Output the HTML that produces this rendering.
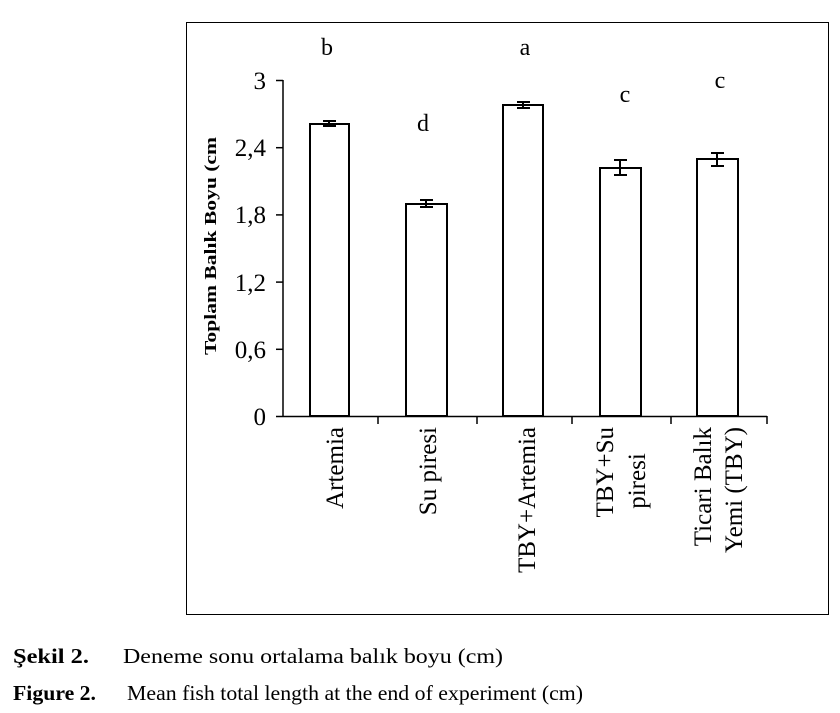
<!DOCTYPE html>
<html><head><meta charset="utf-8"><style>body{margin:0;background:#fff}svg{display:block}</style></head><body>
<svg width="840" height="713" xmlns="http://www.w3.org/2000/svg" font-family="Liberation Serif, serif" fill="#000">
<rect x="186.5" y="22.5" width="642" height="592" fill="none" stroke="#000" stroke-width="1"/>
<g stroke="#000" stroke-width="1.5" fill="none">
<line x1="283" y1="80" x2="283" y2="417"/>
<line x1="276" y1="416.5" x2="767" y2="416.5"/>
<line x1="276" y1="80.5" x2="283" y2="80.5"/>
<line x1="276" y1="147.7" x2="283" y2="147.7"/>
<line x1="276" y1="214.9" x2="283" y2="214.9"/>
<line x1="276" y1="282.1" x2="283" y2="282.1"/>
<line x1="276" y1="349.3" x2="283" y2="349.3"/>
<line x1="378" y1="416" x2="378" y2="424"/>
<line x1="477" y1="416" x2="477" y2="424"/>
<line x1="572" y1="416" x2="572" y2="424"/>
<line x1="671" y1="416" x2="671" y2="424"/>
<line x1="767" y1="416" x2="767" y2="424"/>
</g>
<g stroke="#000" stroke-width="2" fill="#fff">
<rect x="310" y="124" width="39" height="292"/>
<rect x="406" y="204" width="41" height="212"/>
<rect x="503" y="105" width="40" height="311"/>
<rect x="600" y="168" width="41" height="248"/>
<rect x="697" y="159" width="41" height="257"/>
</g>
<g stroke="#000" stroke-width="2">
<line x1="329" y1="121" x2="329" y2="126"/><line x1="323" y1="121" x2="336" y2="121"/><line x1="323" y1="126" x2="336" y2="126"/>
<line x1="426" y1="200" x2="426" y2="207"/><line x1="420" y1="200" x2="433" y2="200"/><line x1="420" y1="207" x2="433" y2="207"/>
<line x1="523" y1="102" x2="523" y2="108"/><line x1="517" y1="102" x2="530" y2="102"/><line x1="517" y1="108" x2="530" y2="108"/>
<line x1="620" y1="160" x2="620" y2="175"/><line x1="614" y1="160" x2="627" y2="160"/><line x1="614" y1="175" x2="627" y2="175"/>
<line x1="717" y1="153" x2="717" y2="166"/><line x1="711" y1="153" x2="724" y2="153"/><line x1="711" y1="166" x2="724" y2="166"/>
</g>
<g font-size="25" text-anchor="end">
<text x="266" y="89">3</text>
<text x="266" y="156">2,4</text>
<text x="266" y="223">1,8</text>
<text x="266" y="291">1,2</text>
<text x="266" y="358">0,6</text>
<text x="266" y="425">0</text>
</g>
<g font-size="24" text-anchor="middle">
<text x="327" y="55">b</text>
<text x="423" y="131">d</text>
<text x="525" y="55">a</text>
<text x="625" y="102">c</text>
<text x="720" y="88">c</text>
</g>
<text transform="translate(216,246) rotate(-90)" font-size="17" font-weight="bold" text-anchor="middle" textLength="218" lengthAdjust="spacingAndGlyphs">Toplam Balık Boyu (cm</text>
<g font-size="25" text-anchor="end">
<text transform="translate(343,427) rotate(-90)">Artemia</text>
<text transform="translate(436,427) rotate(-90)">Su piresi</text>
<text transform="translate(535,427) rotate(-90)">TBY+Artemia</text>
<text transform="translate(613,427) rotate(-90)">TBY+Su</text>
<text transform="translate(645,427) rotate(-90)" text-anchor="middle" x="-54">piresi</text>
<text transform="translate(711,427) rotate(-90)">Ticari Balık</text>
<text transform="translate(742,427) rotate(-90)">Yemi (TBY)</text>
</g>
<text x="13" y="663" font-size="21" font-weight="bold" textLength="76" lengthAdjust="spacingAndGlyphs">Şekil 2.</text>
<text x="123" y="663" font-size="21" textLength="380" lengthAdjust="spacingAndGlyphs">Deneme sonu ortalama balık boyu (cm)</text>
<text x="13" y="700" font-size="21" font-weight="bold" textLength="83" lengthAdjust="spacingAndGlyphs">Figure 2.</text>
<text x="127" y="700" font-size="21" textLength="456" lengthAdjust="spacingAndGlyphs">Mean fish total length at the end of experiment (cm)</text>
</svg>
</body></html>
